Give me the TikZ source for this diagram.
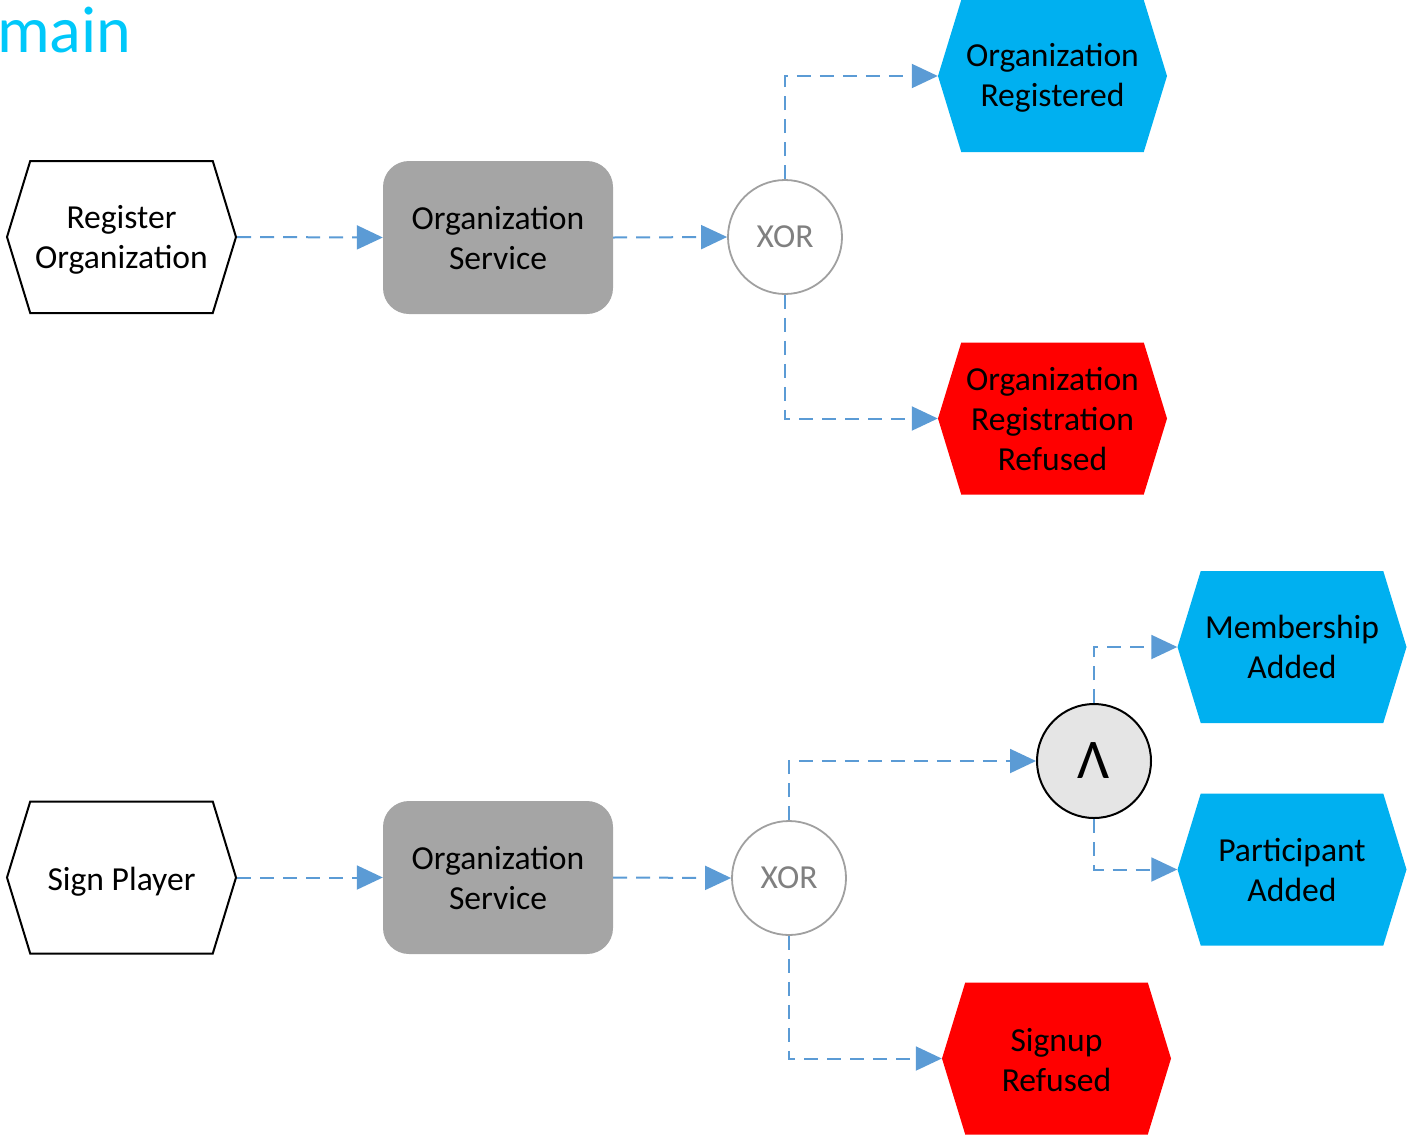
\documentclass[tikz,border=0pt]{standalone}
\usepackage{fontspec}
\setmainfont{Carlito}
\usetikzlibrary{shapes.symbols,arrows.meta}
\definecolor{evblue}{HTML}{00B0F0}
\definecolor{evred}{HTML}{FF0000}
\definecolor{svcgray}{HTML}{A5A5A5}
\definecolor{connblue}{HTML}{5B9BD5}
\definecolor{titlecyan}{HTML}{00C8FA}
\definecolor{xorgray}{HTML}{A0A0A0}
\definecolor{andfill}{HTML}{E5E5E5}
\newcommand{\lowtxt}[2]{\raisebox{-#1}[\height][\depth]{\begin{tabular}{@{}c@{}}#2\end{tabular}}}
\tikzset{
  every node/.style={font=\fontsize{33.6bp}{40bp}\selectfont},
  hexa/.style={signal, signal to=east and west, signal pointer angle=146,
    minimum width=229bp, minimum height=152bp, inner sep=0pt, align=center},
  inhexa/.style={hexa, draw=black, fill=white, line width=2bp},
  okhexa/.style={hexa, fill=evblue},
  badhexa/.style={hexa, fill=evred},
  svc/.style={rectangle, rounded corners=26bp, fill=svcgray, minimum width=230bp,
    minimum height=153bp, align=center, inner sep=0pt},
  xorgate/.style={circle, draw=xorgray, line width=1.8bp, fill=white, minimum size=114bp,
    inner sep=0pt, text=gray},
  andgate/.style={circle, draw=black, line width=2bp, fill=andfill, minimum size=114bp,
    inner sep=0pt},
  conn/.style={draw=connblue, line width=2bp, dash pattern=on 14bp off 9bp,
    -{Triangle[length=26bp,width=24bp,fill=connblue]}},
}
\begin{document}
\begin{tikzpicture}[x=1bp,y=-1bp]
\useasboundingbox (0,0) rectangle (1409,1138);
\node[anchor=base west, inner sep=0pt, text=titlecyan, font=\fontsize{66bp}{70bp}\selectfont] (title) at (-3,52) {main};

% top flow
\node[inhexa] (ro) at (121.5,237) {\lowtxt{3bp}{Register\\Organization}};
\node[svc] (os1) at (498,237.5) {Organization\\Service};
\node[xorgate] (x1) at (785,237) {XOR};
\node[okhexa] (oreg) at (1052.5,76) {\lowtxt{2.5bp}{Organization\\Registered}};
\node[badhexa] (orr) at (1052.5,418.5) {Organization\\Registration\\Refused};

% bottom flow
\node[inhexa] (sp) at (121.5,877.5) {\lowtxt{5bp}{Sign Player}};
\node[svc] (os2) at (498,877.5) {Organization\\Service};
\node[xorgate] (x2) at (789,878) {XOR};
\node[andgate, font=\fontsize{56bp}{60bp}\selectfont] (and) at (1094,761) {Λ};
\node[okhexa] (ma) at (1292,647) {Membership\\Added};
\node[okhexa] (pa) at (1292,869.5) {Participant\\Added};
\node[badhexa] (sr) at (1056.5,1058.5) {\lowtxt{5bp}{Signup\\Refused}};

\draw[conn] (ro.east) -- (os1.west);
\draw[conn] (os1.east) -- (x1.west);
\draw[conn] (x1.north) |- (oreg.west);
\draw[conn] (x1.south) |- (orr.west);

\draw[conn] (sp.east) -- (os2.west);
\draw[conn] (os2.east) -- (x2.west);
\draw[conn] (x2.north) |- (and.west);
\draw[conn] (x2.south) |- (sr.west);
\draw[conn] (and.north) |- (ma.west);
\draw[conn] (and.south) |- (pa.west);
\end{tikzpicture}
\end{document}
